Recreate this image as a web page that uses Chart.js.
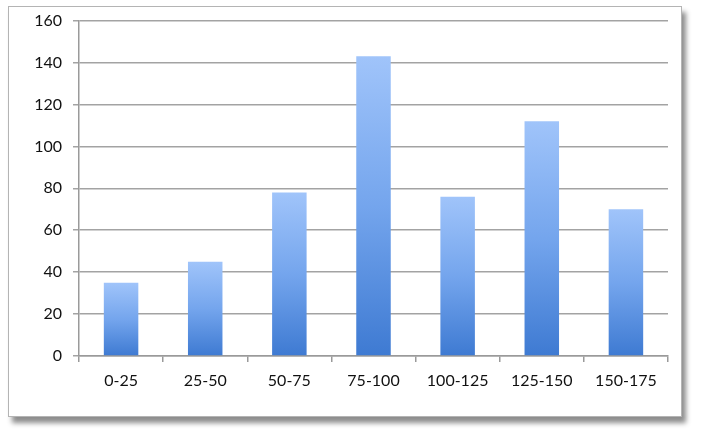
<!DOCTYPE html>
<html lang="en">
<head>
  <meta charset="UTF-8">
  <title>Histogram</title>
  <script src="https://cdn.jsdelivr.net/npm/chart.js"></script>
  <style>
    html, body { margin: 0; padding: 0; background: #fff; }
    .frame {
      position: absolute; left: 8px; top: 6px; width: 674px; height: 411px;
      border: 1px solid #b4b4b4; box-sizing: border-box;
      box-shadow: 4px 6px 5px rgba(0,0,0,0.45);
      background: #fff;
    }
    .chart-box { position: absolute; left: 0; top: 0; width: 704px; height: 438px; }
  </style>
</head>
<body>
  <div class="frame"></div>
  <div class="chart-box">
    <canvas id="histChart" width="704" height="438"></canvas>
  </div>

  <script>
    // bins and counts
    const bins = ['0-25', '25-50', '50-75', '75-100', '100-125', '125-150', '150-175'];
    const counts = [35, 45, 78, 143, 76, 112, 70];
    const yTicks = [0, 20, 40, 60, 80, 100, 120, 140, 160];

    // each bar gets its own light-to-dark gradient, like the Excel fill
    function barFill(ctx) {
      const chart = ctx.chart;
      if (!chart.chartArea || ctx.type !== 'data') return '#74a6ee';
      const y = chart.scales.y;
      const top = y.getPixelForValue(ctx.raw);
      const bottom = y.getPixelForValue(0);
      const g = chart.ctx.createLinearGradient(0, top, 0, bottom);
      g.addColorStop(0, '#a0c4fa');
      g.addColorStop(0.5, '#74a5ed');
      g.addColorStop(1, '#3e7ad2');
      return g;
    }

    new Chart(document.getElementById('histChart'), {
      type: 'bar',
      data: {
        labels: bins,
        datasets: [{
          data: counts,
          backgroundColor: barFill,
          borderWidth: 0,
          barPercentage: 0.41,
          categoryPercentage: 1
        }]
      },
      options: {
        responsive: false,
        animation: false,
        layout: { padding: { left: 10, right: 36, top: 20, bottom: 0 } },
        plugins: { legend: { display: false }, tooltip: { enabled: false } },
        scales: {
          x: {
            afterFit: s => { s.height = 82; },
            grid: {
              offset: true,
              drawOnChartArea: false,
              color: '#9a9a9a',
              tickLength: 6,
              lineWidth: 1.5
            },
            border: { color: '#9a9a9a', width: 1.5 },
            ticks: {
              color: '#111',
              padding: 9,
              font: { family: 'Lato', size: 16 }
            }
          },
          y: {
            min: 0,
            max: 160,
            afterFit: s => { s.width = 69; },
            afterBuildTicks: s => { s.ticks = yTicks.map(v => ({ value: v })); },
            grid: {
              color: '#a3a3a3',
              lineWidth: 1.5,
              tickLength: 6
            },
            border: { color: '#9a9a9a', width: 1.5 },
            ticks: {
              color: '#111',
              padding: 11,
              font: { family: 'Lato', size: 16 }
            }
          }
        }
      }
    });
  </script>
</body>
</html>
